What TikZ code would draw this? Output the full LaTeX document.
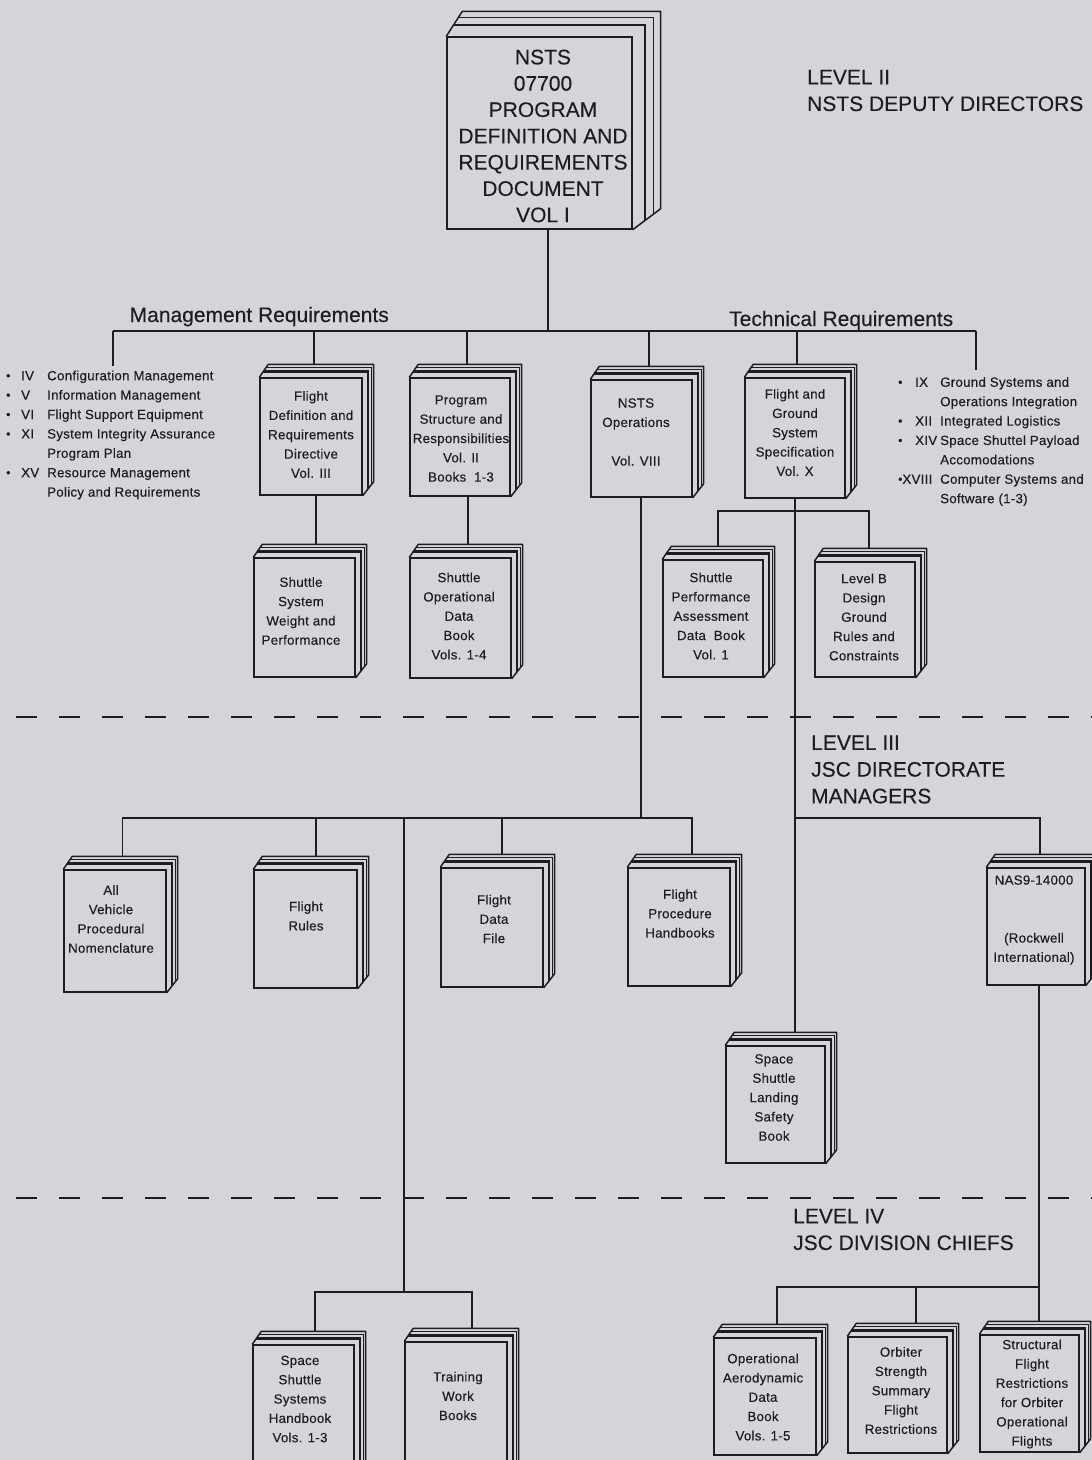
\documentclass[tikz,border=0pt]{standalone}
\usepackage{fontspec}
\setmainfont{Liberation Sans}[FakeBold=0.2]
\newfontfamily\bkfont[LetterSpace=2,FakeBold=0.3]{Liberation Sans}
\definecolor{bg}{RGB}{213,212,218}
\definecolor{ink}{RGB}{28,28,34}
\tikzset{
  conn/.style={draw=ink, line width=1.2pt},
  sepline/.style={draw=ink, line width=1.8pt, dash pattern=on 21pt off 22pt},
  bookfront/.style={draw=ink, line width=1.4pt, fill=bg, inner sep=0pt},
  bookcover/.style={draw=ink, line width=1.5pt, line join=round},
  booktxt/.style={font=\bkfont\fontsize{13.3}{19.3}\selectfont, align=center, inner sep=0pt, text=ink},
  bigtxt/.style={font=\fontsize{21}{26.3}\selectfont, align=center, inner sep=0pt, text=ink},
  lvl/.style={font=\fontsize{21}{26.7}\selectfont, align=left, inner sep=0pt, text=ink},
  listtxt/.style={font=\bkfont\fontsize{13.3}{19.4}\selectfont, align=left, inner sep=0pt, text=ink},
}
% book back: name, d, e, r, s
\newcommand\bkback[5]{%
  \draw[bookcover] (#1.north west) -- ++(#2,-#3) -- ([shift={(#4,-#3)}]#1.north east)
     -- ([shift={(#4,-#5)}]#1.south east) -- (#1.south east);
  \foreach \t/\w in {0.45/2.2, 0.75/0.8}{%
    \draw[ink, line width=\w pt] ([shift={(\t*#2,-\t*#3)}]#1.north west)
       -- ([shift={(\t*#4,-\t*#3)}]#1.north east) -- ([shift={(\t*#4,-\t*#5)}]#1.south east);
  }%
}
% book: name, x1, y1, x2, y2, x of incoming connector
\newcommand\bk[6]{%
  \pgfmathsetmacro\bkw{#4-#2}%
  \pgfmathsetmacro\bkh{#5-#3}%
  \pgfmathsetmacro\bkx{(#2+#4)/2}%
  \pgfmathsetmacro\bky{(#3+#5)/2}%
  \pgfmathsetmacro\bkt{#3-\bke}%
  \node[bookfront, minimum width=\bkw pt, minimum height=\bkh pt] (#1) at (\bkx,\bky) {};%
  \bkback{#1}{\bkd}{\bke}{\bkr}{\bks}%
  \coordinate (#1-in) at (#6,\bkt);%
}
\newcommand\blt{{\fontsize{12}{12}\selectfont\raisebox{0.5pt}{•}}}
\newcommand\li[2]{\makebox[15pt][l]{\blt}\makebox[26pt][l]{#1}#2}
\newcommand\lc[1]{\hspace*{41pt}#1}
\newcommand\ri[2]{\makebox[17pt][l]{\blt}\makebox[25pt][l]{#1}#2}
\newcommand\rc[1]{\hspace*{42pt}#1}
\begin{document}
\begin{tikzpicture}[x=1pt,y=-1pt]
\fill[bg] (0,0) rectangle (1092,1460);
\useasboundingbox (0,0) rectangle (1092,1460);

% ---------- main book
\def\bkd{16}\def\bke{25}\def\bkr{28}\def\bks{21}
\bk{main}{447}{37}{632}{229}{548}
\node[bigtxt] (main-t) at (543,136) {NSTS\\07700\\PROGRAM\\DEFINITION AND\\REQUIREMENTS\\DOCUMENT\\VOL I};

% ---------- small books
\def\bkd{9}\def\bke{13}\def\bkr{11}\def\bks{14}
\bk{fd}{260}{378}{362}{495}{314}
\bk{ps}{410}{378}{510}{496}{467}
\bk{ops}{591}{380}{692}{497}{649}
\bk{fg}{745}{378}{845}{498}{797}
\bk{ssw}{254}{558}{355}{677}{316}
\bk{sodb}{410}{558}{511}{678}{468}
\bk{sp}{663}{560}{763}{677}{718}
\bk{lb}{815}{562}{915}{677}{869}
\bk{av}{64}{870}{166}{992}{122.5}
\bk{fr}{254}{870}{357}{988}{316}
\bk{fdf}{441}{868}{543}{987}{502}
\bk{fph}{628}{868}{730}{986}{692}
\bk{nas}{987}{868}{1085}{985}{1040}
\bk{land}{726}{1046}{825}{1163}{795}
\bk{sssh}{253}{1345}{354}{1478}{315}
\bk{twb}{405}{1342}{507}{1478}{472}
\bk{oadb}{714}{1338}{816}{1455}{777}
\bk{oss}{848}{1337}{947}{1453}{916}
\bk{sfr}{980}{1335}{1079}{1452}{1039}

\node[booktxt] (fd-t) at (311,434.5) {Flight\\Definition and\\Requirements\\Directive\\Vol. III};
\node[booktxt] (ps-t) at (461,438.5) {Program\\Structure and\\Responsibilities\\Vol. II\\Books~~1-3};
\node[booktxt] (ops-t) at (636,432) {NSTS\\Operations\\[19.3pt]Vol. VIII};
\node[booktxt] (fg-t) at (795,432.5) {Flight and\\Ground\\System\\Specification\\Vol. X};
\node[booktxt] (ssw-t) at (301,611) {Shuttle\\System\\Weight and\\Performance};
\node[booktxt] (sodb-t) at (459,616) {Shuttle\\Operational\\Data\\Book\\Vols. 1-4};
\node[booktxt] (sp-t) at (711,616) {Shuttle\\Performance\\Assessment\\Data~~Book\\Vol. 1};
\node[booktxt] (lb-t) at (864,617) {Level B\\Design\\Ground\\Rules and\\Constraints};
\node[booktxt] (av-t) at (111,919) {All\\Vehicle\\Procedural\\Nomenclature};
\node[booktxt] (fr-t) at (306,916) {Flight\\Rules};
\node[booktxt] (fdf-t) at (494,919) {Flight\\Data\\File};
\node[booktxt] (fph-t) at (680,913.5) {Flight\\Procedure\\Handbooks};
\node[booktxt] (nas-t) at (1034,920) {NAS9-14000\\[38.6pt](Rockwell\\International)};
\node[booktxt] (land-t) at (774,1097.5) {Space\\Shuttle\\Landing\\Safety\\Book};
\node[booktxt] (sssh-t) at (300,1399) {Space\\Shuttle\\Systems\\Handbook\\Vols. 1-3};
\node[booktxt] (twb-t) at (458,1396) {Training\\Work\\Books};
\node[booktxt] (oadb-t) at (763,1397) {Operational\\Aerodynamic\\Data\\Book\\Vols. 1-5};
\node[booktxt] (oss-t) at (901,1390.5) {Orbiter\\Strength\\Summary\\Flight\\Restrictions};
\node[booktxt] (sfr-t) at (1032,1394) {Structural\\Flight\\Restrictions\\for Orbiter\\Operational\\Flights};

% ---------- labels
\node[lvl, anchor=west] (lv2) at (807,90.5) {LEVEL II\\NSTS DEPUTY DIRECTORS};
\node[lvl, anchor=west] (lv3) at (811,769.5) {LEVEL III\\JSC DIRECTORATE\\MANAGERS};
\node[lvl, anchor=west] (lv4) at (793,1229.5) {LEVEL IV\\JSC DIVISION CHIEFS};
\node[lvl, anchor=base west] (mgmt) at (129.5,322) {Management Requirements};
\node[lvl, anchor=base west] (tech) at (729,326) {Technical Requirements};

\node[listtxt, anchor=west] (mlist) at (6,435) {\li{IV}{Configuration Management}\\\li{V}{Information Management}\\\li{VI}{Flight Support Equipment}\\\li{XI}{System Integrity Assurance}\\\lc{Program Plan}\\\li{XV}{Resource Management}\\\lc{Policy and Requirements}};
\node[listtxt, anchor=west] (rlist) at (898,441.5) {\ri{IX}{Ground Systems and}\\\rc{Operations Integration}\\\ri{XII}{Integrated Logistics}\\\ri{XIV}{Space Shuttel Payload}\\\rc{Accomodations}\\\makebox[42pt][l]{\blt XVIII}Computer Systems and\\\rc{Software (1-3)}};

% ---------- connectors, level II
\coordinate (bar1L) at (113,331);
\coordinate (bar1R) at (976,331);
\coordinate (j1) at (548,331);
\coordinate (mlist-in) at (113,366);
\coordinate (rlist-in) at (976,370);
\draw[conn] (bar1L) -- (bar1R);
\draw[conn] (j1 |- main.south) -- (j1);
\draw[conn] (bar1L) -- (mlist-in);
\draw[conn] (bar1R) -- (rlist-in);
\foreach \n in {fd,ps,ops,fg} \draw[conn] (bar1L -| \n-in) -- (\n-in);
\draw[conn] (fd.south -| ssw-in) -- (ssw-in);
\draw[conn] (ps.south -| sodb-in) -- (sodb-in);
\coordinate (fgb) at (795,511);
\draw[conn] (sp-in) |- (lb-in |- fgb) -- (lb-in);
\draw[conn] (fg.south -| land-in) -- (land-in);

% ---------- level III
\coordinate (j2) at (641,818);
\draw[conn] (ops.south -| j2) -- (j2);
\draw[conn] (av-in) |- (fph-in |- j2) -- (fph-in);
\draw[conn] (fr-in |- j2) -- (fr-in);
\draw[conn] (fdf-in |- j2) -- (fdf-in);
\draw[conn] (land-in |- j2) -| (nas-in);
\coordinate (j3) at (404,1292);
\draw[conn] (j3 |- j2) -- (j3);
\draw[conn] (sssh-in) |- (twb-in |- j3) -- (twb-in);

% ---------- level IV
\coordinate (j5) at (1039,1287);
\draw[conn] (nas.south -| sfr-in) -- (sfr-in);
\draw[conn] (oadb-in) |- (j5);
\draw[conn] (oss-in |- j5) -- (oss-in);

% ---------- level separators
\coordinate (d1a) at (16,717);
\coordinate (d1b) at (1092,717);
\coordinate (d2a) at (16,1198);
\coordinate (d2b) at (1092,1198);
\draw[sepline] (d1a) -- (d1b);
\draw[sepline] (d2a) -- (d2b);
\end{tikzpicture}
\end{document}
